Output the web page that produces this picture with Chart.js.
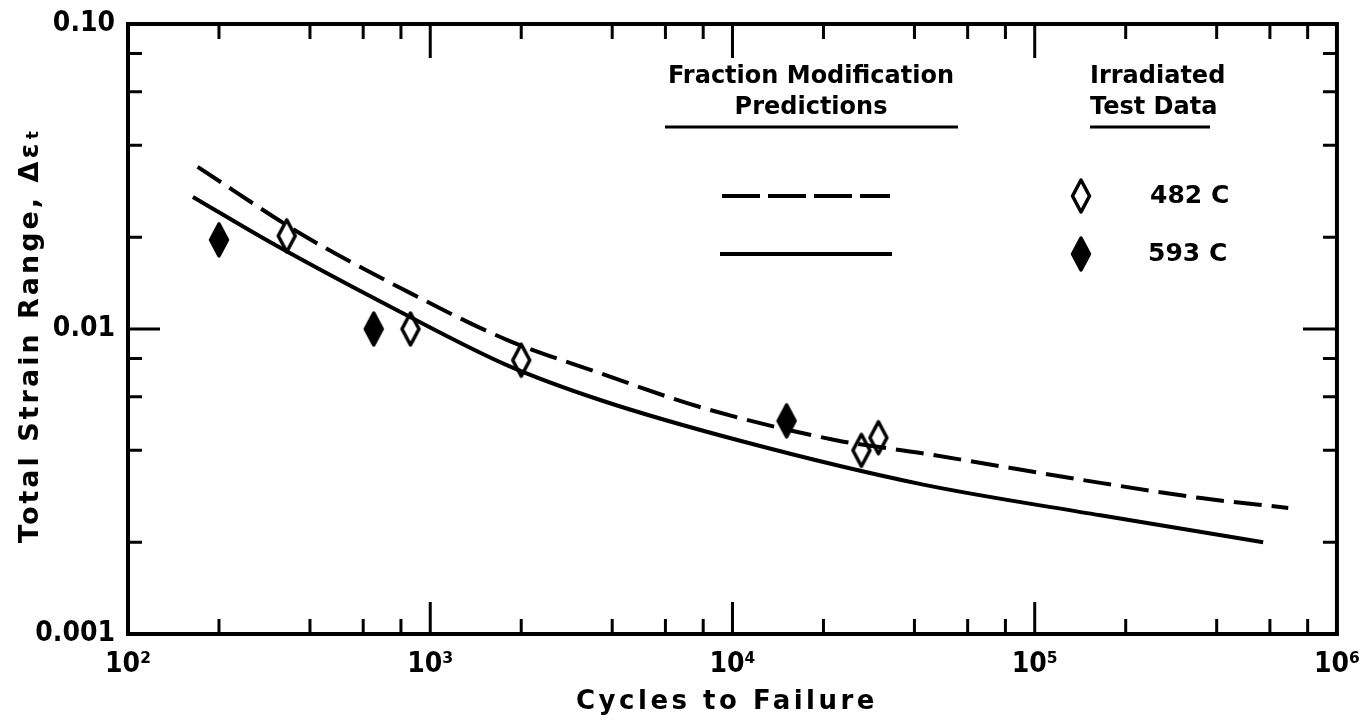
<!DOCTYPE html>
<html>
<head>
<meta charset="utf-8">
<script src="https://cdn.jsdelivr.net/npm/chart.js@4.4.1/dist/chart.umd.min.js"></script>
<style>
  html, body { margin: 0; padding: 0; background: #fff; }
  #wrap { width: 1366px; height: 727px; }
</style>
</head>
<body>
<div id="wrap"><canvas id="fatigue" width="1366" height="727"></canvas></div>
<script>
// prediction curves
const dashCycles = [170, 380, 800, 1800, 3600, 7800, 22000, 42000, 165000, 355000, 690000];
const dashStrain = [0.034, 0.0203, 0.0136, 0.0092, 0.0072, 0.00555, 0.00432, 0.00392, 0.00313, 0.00279, 0.00259];
const solidCycles = [164, 300, 780, 1800, 3650, 10600, 42000, 165000, 570000];
const solidStrain = [0.0271, 0.0191, 0.0115, 0.0076, 0.00585, 0.0043, 0.0031, 0.00245, 0.0020];

// irradiated test data
const cycles482 = [335, 860, 2000, 26700, 30400];
const strain482 = [0.0202, 0.0100, 0.0079, 0.0040, 0.0044];
const cycles593 = [200, 650, 15100];
const strain593 = [0.0196, 0.0100, 0.0050];

const xTickVals = [1e2, 1e3, 1e4, 1e5, 1e6];
const xTickText = ['10²', '10³', '10⁴', '10⁵', '10⁶'];
const yTickVals = [0.001, 0.01, 0.1];
const yTickText = ['0.001', '0.01', '0.10'];
const minorMult = [2, 4, 6, 8];

const FONT = "'DejaVu Sans', sans-serif";
const TICKFONT = "'DejaVu Sans Condensed', 'DejaVu Sans', sans-serif";

function diamond(filled) {
  const c = document.createElement('canvas');
  c.width = 24; c.height = 38;
  const g = c.getContext('2d');
  g.beginPath();
  g.moveTo(12, 3); g.lineTo(20.5, 19); g.lineTo(12, 35); g.lineTo(3.5, 19); g.closePath();
  g.fillStyle = filled ? '#000' : '#fff';
  g.fill();
  g.lineWidth = 3.5;
  g.lineJoin = 'round';
  g.strokeStyle = '#000';
  g.stroke();
  return c;
}
const openDiamond = diamond(false);
const fullDiamond = diamond(true);

const pts = (xs, ys) => xs.map((x, i) => ({ x, y: ys[i] }));

const decor = {
  id: 'decor',
  afterDraw(chart) {
    const ctx = chart.ctx;
    const a = chart.chartArea;
    const xs = chart.scales.x, ys = chart.scales.y;
    ctx.save();
    ctx.strokeStyle = '#000';
    ctx.fillStyle = '#000';
    ctx.lineCap = 'butt';

    // frame
    ctx.lineWidth = 4;
    ctx.strokeRect(a.left, a.top, a.right - a.left, a.bottom - a.top);

    // inward ticks on all four sides
    ctx.lineWidth = 3;
    for (let d = 2; d < 6; d++) {
      const base = Math.pow(10, d);
      if (d > 2) {
        const px = xs.getPixelForValue(base);
        ctx.beginPath();
        ctx.moveTo(px, a.bottom); ctx.lineTo(px, a.bottom - 32);
        ctx.moveTo(px, a.top); ctx.lineTo(px, a.top + 34);
        ctx.stroke();
      }
      minorMult.forEach(m => {
        const px = xs.getPixelForValue(base * m);
        ctx.beginPath();
        ctx.moveTo(px, a.bottom); ctx.lineTo(px, a.bottom - 15);
        ctx.moveTo(px, a.top); ctx.lineTo(px, a.top + 15);
        ctx.stroke();
      });
    }
    [0.001, 0.01].forEach((base, i) => {
      if (i > 0) {
        const py = ys.getPixelForValue(base);
        ctx.beginPath();
        ctx.moveTo(a.left, py); ctx.lineTo(a.left + 32, py);
        ctx.moveTo(a.right, py); ctx.lineTo(a.right - 34, py);
        ctx.stroke();
      }
      minorMult.forEach(m => {
        const py = ys.getPixelForValue(base * m);
        ctx.beginPath();
        ctx.moveTo(a.left, py); ctx.lineTo(a.left + 14, py);
        ctx.moveTo(a.right, py); ctx.lineTo(a.right - 14, py);
        ctx.stroke();
      });
    });

    // axis titles
    ctx.textBaseline = 'middle';
    ctx.textAlign = 'center';
    ctx.font = 'bold 26px ' + FONT;
    ctx.letterSpacing = '3.5px';
    ctx.fillText('Cycles to Failure', 727, 702);
    ctx.save();
    ctx.translate(31, 335);
    ctx.rotate(-Math.PI / 2);
    ctx.font = 'bold 27px ' + FONT;
    ctx.letterSpacing = '3px';
    ctx.fillText('Total Strain Range, Δεₜ', 0, 0);
    ctx.restore();
    ctx.letterSpacing = '0px';

    // legend
    ctx.font = 'bold 24px ' + FONT;
    ctx.fillText('Fraction Modification', 811, 77);
    ctx.fillText('Predictions', 811, 108);
    ctx.textAlign = 'left';
    ctx.fillText('Irradiated', 1090, 77);
    ctx.fillText('Test Data', 1090, 108);
    ctx.font = 'bold 25px ' + FONT;
    ctx.fillText('482 C', 1150, 196);
    ctx.fillText('593 C', 1148, 254);

    ctx.lineWidth = 3;
    ctx.beginPath();
    ctx.moveTo(665, 127); ctx.lineTo(958, 127);
    ctx.moveTo(1090, 127); ctx.lineTo(1210, 127);
    ctx.stroke();

    ctx.lineWidth = 4;
    ctx.setLineDash([38, 8]);
    ctx.beginPath();
    ctx.moveTo(722, 196); ctx.lineTo(890, 196);
    ctx.stroke();
    ctx.setLineDash([]);
    ctx.beginPath();
    ctx.moveTo(720, 254); ctx.lineTo(892, 254);
    ctx.stroke();

    ctx.drawImage(openDiamond, 1081 - 12, 196 - 19);
    ctx.drawImage(fullDiamond, 1081 - 12, 254 - 19);
    ctx.restore();
  }
};

new Chart(document.getElementById('fatigue').getContext('2d'), {
  type: 'scatter',
  data: {
    datasets: [
      {
        label: 'Fraction Modification, 482 C',
        data: pts(dashCycles, dashStrain),
        showLine: true,
        borderColor: '#000',
        borderWidth: 4,
        borderDash: [28, 10],
        pointRadius: 0,
        cubicInterpolationMode: 'monotone',
      },
      {
        label: 'Fraction Modification, 593 C',
        data: pts(solidCycles, solidStrain),
        showLine: true,
        borderColor: '#000',
        borderWidth: 4,
        pointRadius: 0,
        cubicInterpolationMode: 'monotone',
      },
      {
        label: '482 C',
        data: pts(cycles482, strain482),
        pointStyle: openDiamond,
        pointRadius: 12,
      },
      {
        label: '593 C',
        data: pts(cycles593, strain593),
        pointStyle: fullDiamond,
        pointRadius: 12,
      },
    ],
  },
  options: {
    responsive: false,
    animation: false,
    layout: { padding: { left: 0, right: 29, top: 24, bottom: 0 } },
    plugins: {
      legend: { display: false },
      tooltip: { enabled: false },
    },
    scales: {
      x: {
        type: 'logarithmic',
        min: 100,
        max: 1e6,
        grid: { display: false },
        border: { display: false },
        afterBuildTicks: (s) => { s.ticks = xTickVals.map(v => ({ value: v })); },
        afterFit: (s) => { s.height = 93; },
        ticks: {
          autoSkip: false,
          maxRotation: 0,
          padding: 6,
          color: '#000',
          font: { family: TICKFONT, size: 28, weight: 'bold' },
          callback: (v, i) => xTickText[i],
        },
      },
      y: {
        type: 'logarithmic',
        min: 0.001,
        max: 0.1,
        grid: { display: false },
        border: { display: false },
        afterBuildTicks: (s) => { s.ticks = yTickVals.map(v => ({ value: v })); },
        afterFit: (s) => { s.width = 128; },
        ticks: {
          autoSkip: false,
          padding: 5,
          color: '#000',
          font: { family: TICKFONT, size: 28, weight: 'bold' },
          callback: (v, i) => yTickText[i],
        },
      },
    },
  },
  plugins: [decor],
});
</script>
</body>
</html>
